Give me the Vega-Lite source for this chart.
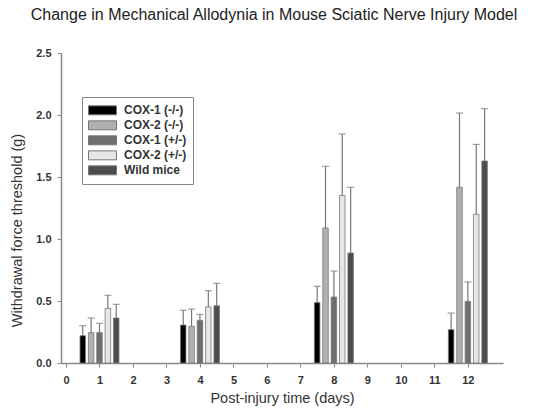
{
"$schema": "https://vega.github.io/schema/vega-lite/v6.json",
"width": 442, "height": 310,
"autosize": "none",
"padding": {"left": 61, "top": 53, "right": 39, "bottom": 46},
"background": "white",
"title": {"text": "Change in Mechanical Allodynia in Mouse Sciatic Nerve Injury Model", "font": "Liberation Sans", "fontSize": 16, "fontWeight": "normal", "color": "#222", "offset": 24, "dx": -8, "anchor": "middle"},
"config": {"view": {"stroke": null}, "font": "Liberation Sans",
  "axis": {"grid": false, "domainColor": "#888", "domainWidth": 1.5, "tickColor": "#888", "tickSize": 4, "tickWidth": 1, "labelFont": "Liberation Sans", "labelFontSize": 11, "labelFontWeight": "bold", "labelColor": "#333", "titleFont": "Liberation Sans", "titleFontSize": 14.5, "titleFontWeight": "normal", "titleColor": "#333"}},
"data": {"values": [
  {"day": 1, "group": "COX-1 (-/-)", "mean": 0.22, "upper": 0.30},
  {"day": 1, "group": "COX-2 (-/-)", "mean": 0.245, "upper": 0.363},
  {"day": 1, "group": "COX-1 (+/-)", "mean": 0.245, "upper": 0.32},
  {"day": 1, "group": "COX-2 (+/-)", "mean": 0.44, "upper": 0.546},
  {"day": 1, "group": "Wild mice", "mean": 0.363, "upper": 0.473},
  {"day": 4, "group": "COX-1 (-/-)", "mean": 0.306, "upper": 0.425},
  {"day": 4, "group": "COX-2 (-/-)", "mean": 0.296, "upper": 0.435},
  {"day": 4, "group": "COX-1 (+/-)", "mean": 0.344, "upper": 0.392},
  {"day": 4, "group": "COX-2 (+/-)", "mean": 0.452, "upper": 0.583},
  {"day": 4, "group": "Wild mice", "mean": 0.462, "upper": 0.642},
  {"day": 8, "group": "COX-1 (-/-)", "mean": 0.487, "upper": 0.618},
  {"day": 8, "group": "COX-2 (-/-)", "mean": 1.089, "upper": 1.586},
  {"day": 8, "group": "COX-1 (+/-)", "mean": 0.532, "upper": 0.742},
  {"day": 8, "group": "COX-2 (+/-)", "mean": 1.352, "upper": 1.847},
  {"day": 8, "group": "Wild mice", "mean": 0.887, "upper": 1.417},
  {"day": 12, "group": "COX-1 (-/-)", "mean": 0.269, "upper": 0.403},
  {"day": 12, "group": "COX-2 (-/-)", "mean": 1.417, "upper": 2.016},
  {"day": 12, "group": "COX-1 (+/-)", "mean": 0.497, "upper": 0.653},
  {"day": 12, "group": "COX-2 (+/-)", "mean": 1.199, "upper": 1.763},
  {"day": 12, "group": "Wild mice", "mean": 1.629, "upper": 2.051}
]},
"transform": [
  {"calculate": "datum.day + 0.25 * (indexof(['COX-1 (-/-)', 'COX-2 (-/-)', 'COX-1 (+/-)', 'COX-2 (+/-)', 'Wild mice'], datum.group) - 2)", "as": "pos"}
],
"encoding": {
  "x": {"field": "pos", "type": "quantitative", "scale": {"domain": [0, 12.9], "nice": false, "zero": false},
        "axis": {"values": [0,1,2,3,4,5,6,7,8,9,10,11,12], "format": "d", "title": "Post-injury time (days)", "labelPadding": 7, "titlePadding": 6}}
},
"layer": [
  {"mark": {"type": "rule", "color": "#777", "strokeWidth": 1.2},
   "encoding": {"y": {"field": "mean", "type": "quantitative", "stack": null}, "y2": {"field": "upper"}}},
  {"mark": {"type": "tick", "color": "#777", "orient": "horizontal", "size": 7, "thickness": 1.2},
   "encoding": {"y": {"field": "upper", "type": "quantitative", "stack": null}}},
  {"mark": {"type": "bar", "width": 5.5, "stroke": "#777", "strokeWidth": 0.8},
   "encoding": {
     "y": {"field": "mean", "type": "quantitative", "stack": null, "scale": {"domain": [0, 2.5], "nice": false},
           "axis": {"values": [0, 0.5, 1, 1.5, 2, 2.5], "format": ".1f", "title": "Withdrawal force threshold (g)", "labelPadding": 6, "titleX": -44, "titleY": 177, "titleAngle": -90, "titleAlign": "center", "titleBaseline": "middle"}},
     "color": {"field": "group", "type": "nominal",
       "scale": {"domain": ["COX-1 (-/-)", "COX-2 (-/-)", "COX-1 (+/-)", "COX-2 (+/-)", "Wild mice"], "range": ["#000000", "#b0b0b0", "#6e6e6e", "#e6e6e6", "#4c4c4c"]},
       "legend": {"title": null, "orient": "none", "legendX": 21, "legendY": 44, "strokeColor": "#888", "fillColor": "white", "padding": 6,
         "symbolType": "M-1,-0.32H1V0.32H-1Z", "symbolSize": 784, "symbolStrokeColor": "#777", "symbolStrokeWidth": 1, "symbolOpacity": 1,
         "labelFont": "Liberation Sans", "labelFontSize": 12, "labelFontWeight": "bold", "labelColor": "#333", "labelOffset": 7, "clipHeight": 14.67, "rowPadding": 0}}
   }}
]
}
